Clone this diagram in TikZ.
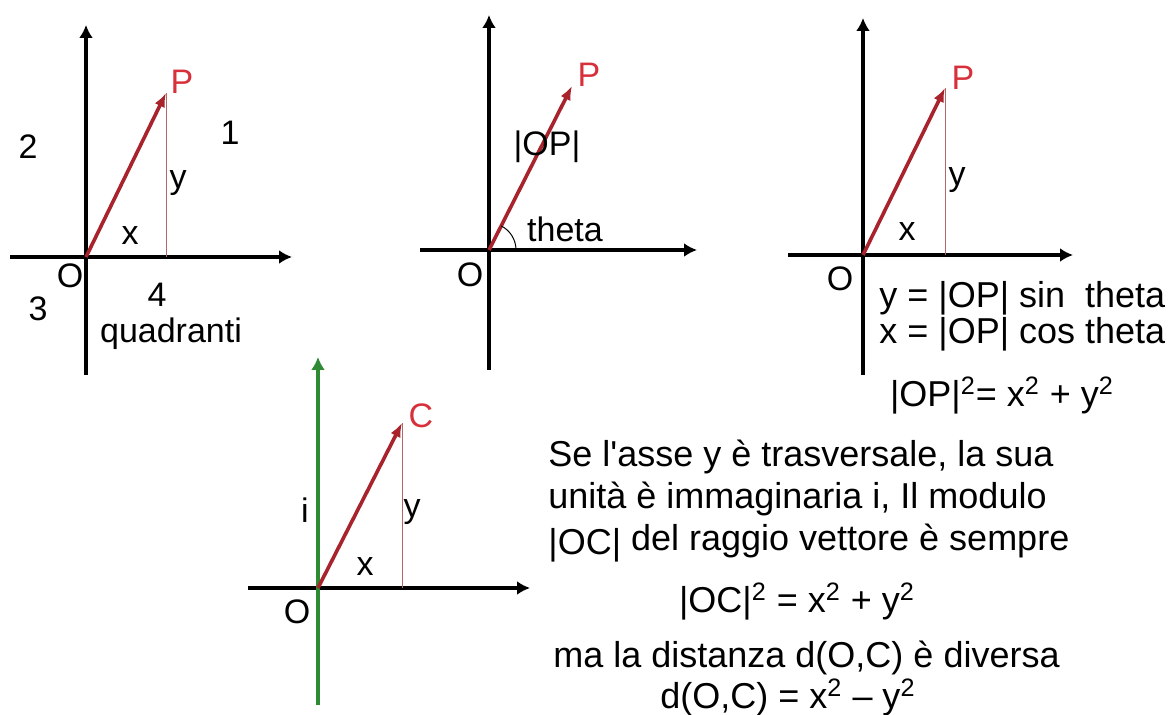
\documentclass[tikz,border=0pt]{standalone}
\usepackage{fontspec}
\setmainfont{Liberation Sans}
\usetikzlibrary{arrows.meta}

\definecolor{vecred}{HTML}{A8232B}
\definecolor{labred}{HTML}{D8303A}
\definecolor{projred}{HTML}{B06868}
\definecolor{axgreen}{HTML}{2E8B34}

\tikzset{
  axis/.style={line width=2pt, -{Latex[length=6.5pt,width=7pt]}},
  vec/.style={vecred, line width=1.8pt, -{Latex[length=7pt,width=5.5pt]}},
  proj/.style={projred, line width=0.5pt},
  lab/.style={font=\fontsize{17}{20}\selectfont, inner sep=0pt},
  txt/.style={font=\fontsize{18}{21}\selectfont, inner sep=0pt, anchor=base west},
}
\newcommand{\sq}{\textsuperscript{2}}

\begin{document}
\begin{tikzpicture}[x=0.5pt,y=-0.5pt]
\useasboundingbox (0,0) rectangle (1173,715);

% quadranti
\coordinate (O1) at (86,257);
\coordinate (P1) at (166,93);
\coordinate (xa1) at (292,257);
\coordinate (xb1) at (10,257);
\coordinate (ya1) at (86,25);
\coordinate (yb1) at (86,375);
\draw[axis] (xb1) -- (xa1);
\draw[axis] (yb1) -- (ya1);
\draw[proj] (P1) -- (P1 |- O1);
\draw[vec] (O1) -- (P1);
\node[lab,labred] (p1) at (182,82) {P};
\node[lab] (q2) at (28,147) {2};
\node[lab] (q1) at (230,133) {1};
\node[lab] (y1) at (178,183) {y};
\node[lab] (x1) at (130,236) {x};
\node[lab] (o1) at (70,276) {O};
\node[lab] (q3) at (38,309) {3};
\node[lab] (q4) at (157,295) {4};
\node[lab] (quad) at (171,334) {quadranti};

% modulo e angolo
\coordinate (O2) at (489,250);
\coordinate (P2) at (572,86);
\coordinate (xa2) at (697,250);
\coordinate (xb2) at (420,250);
\coordinate (ya2) at (489,15);
\coordinate (yb2) at (489,370);
\draw[axis] (xb2) -- (xa2);
\draw[axis] (yb2) -- (ya2);
\draw[vec] (O2) -- (P2);
\draw[line width=0.5pt] (O2) ++(27,0) arc[start angle=0, end angle=-63, radius=27];
\node[lab,labred] (p2) at (589,75) {P};
\node[lab] (op2) at (547,147) {|OP|};
\node[lab] (th2) at (565,229) {theta};
\node[lab] (o2) at (470,275) {O};

% componenti
\coordinate (O3) at (863,255);
\coordinate (P3) at (945,88);
\coordinate (xa3) at (1073,255);
\coordinate (xb3) at (788,255);
\coordinate (ya3) at (863,18);
\coordinate (yb3) at (863,375);
\draw[axis] (xb3) -- (xa3);
\draw[axis] (yb3) -- (ya3);
\draw[proj] (P3) -- (P3 |- O3);
\draw[vec] (O3) -- (P3);
\node[lab,labred] (p3) at (963,78) {P};
\node[lab] (y3) at (957,180) {y};
\node[lab] (x3) at (907,232) {x};
\node[lab] (o3) at (840,279) {O};
\node[txt] (eqy) at (879,308) {y = |OP| sin\ \ theta};
\node[txt] (eqx) at (879,344) {x = |OP| cos theta};
\node[txt,anchor=base] (eqm) at (1002,407) {|OP|\sq= x\sq\ + y\sq};

% asse immaginario
\coordinate (O4) at (318,588);
\coordinate (C4) at (402,423);
\coordinate (xa4) at (530,588);
\coordinate (xb4) at (248,588);
\coordinate (ya4) at (318,357);
\coordinate (yb4) at (318,705);
\draw[axis] (xb4) -- (xa4);
\draw[axis,axgreen] (yb4) -- (ya4);
\draw[proj] (C4) -- (C4 |- O4);
\draw[vec] (O4) -- (C4);
\node[lab,labred] (c4) at (421,416) {C};
\node[lab] (i4) at (305,510) {i};
\node[lab] (y4) at (412,512) {y};
\node[lab] (x4) at (365,567) {x};
\node[lab] (o4) at (297,612) {O};

% testo
\node[txt] (t1) at (548,467) {Se l\textquotesingle asse y è trasversale, la sua};
\node[txt] (t2) at (548,509) {unità è immaginaria i, Il modulo};
\node[txt] (t3) at (548,551) {\raisebox{-2pt}{|OC|} del raggio vettore è sempre};
\node[txt,anchor=base] (t4) at (797,613) {|OC|\sq\ = x\sq\ + y\sq};
\node[txt] (t5) at (553,668) {ma la distanza d(O,C) è diversa};
\node[txt,anchor=base] (t6) at (788,709) {d(O,C) = x\sq\ – y\sq};
\end{tikzpicture}
\end{document}
